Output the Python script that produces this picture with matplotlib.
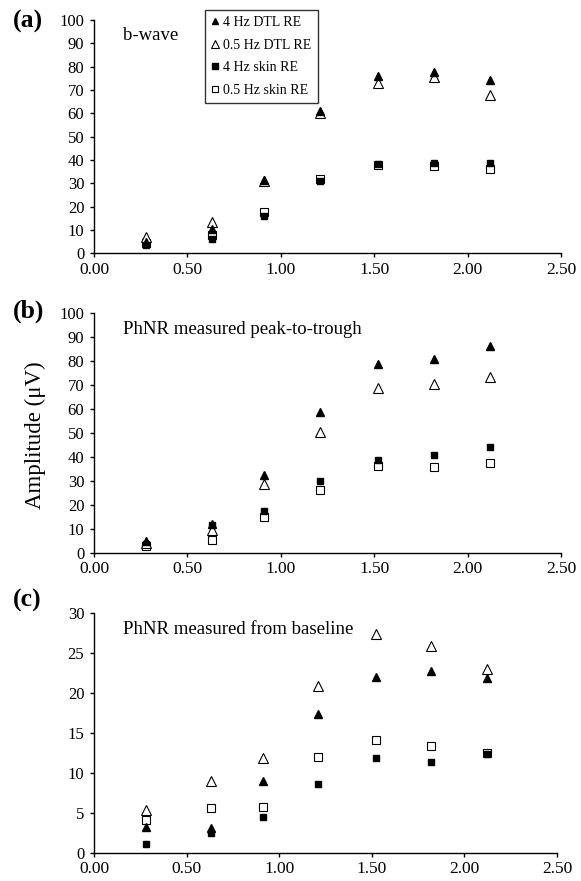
import matplotlib
matplotlib.use("Agg")
import matplotlib.pyplot as plt
from matplotlib.ticker import FormatStrFormatter, MultipleLocator

plt.rcParams['font.family'] = ['Liberation Serif', 'DejaVu Serif']

x = [0.28, 0.63, 0.91, 1.21, 1.52, 1.82, 2.12]

series_names = ["4 Hz DTL RE", "0.5 Hz DTL RE", "4 Hz skin RE", "0.5 Hz skin RE"]

# (a) b-wave
a_4hz_dtl = [5.0, 10.4, 31.4, 61.0, 76.0, 77.8, 74.3]
a_05hz_dtl = [7.2, 13.4, 31.0, 60.0, 73.0, 75.4, 67.9]
a_4hz_skin = [3.7, 6.1, 16.0, 31.2, 38.2, 38.5, 38.9]
a_05hz_skin = [4.5, 7.7, 17.6, 32.0, 37.9, 37.4, 36.2]

# (b) PhNR peak-to-trough
b_4hz_dtl = [4.8, 12.0, 32.4, 58.7, 78.8, 80.6, 86.3]
b_05hz_dtl = [4.0, 9.3, 28.7, 50.1, 68.8, 70.5, 73.0]
b_4hz_skin = [3.5, 11.4, 17.3, 29.8, 38.5, 40.6, 44.0]
b_05hz_skin = [2.9, 5.1, 15.0, 26.0, 36.3, 35.6, 37.4]

# (c) PhNR from baseline
c_4hz_dtl = [3.2, 3.1, 9.0, 17.3, 22.0, 22.7, 21.8]
c_05hz_dtl = [5.3, 9.0, 11.9, 20.8, 27.3, 25.8, 23.0]
c_4hz_skin = [1.1, 2.5, 4.5, 8.6, 11.9, 11.4, 12.4]
c_05hz_skin = [4.1, 5.6, 5.7, 12.0, 14.1, 13.4, 12.5]

W, H = 581, 881
fig = plt.figure(figsize=(W / 100, H / 100), dpi=100)

def ax_rect(l, r, t, b):
    return [l / W, 1 - b / H, (r - l) / W, (b - t) / H]

axes = [
    fig.add_axes(ax_rect(94, 561, 20, 253.3)),
    fig.add_axes(ax_rect(94, 561, 312.7, 552.7)),
    fig.add_axes(ax_rect(94, 557, 612.7, 852.7)),
]

data = [
    (a_4hz_dtl, a_05hz_dtl, a_4hz_skin, a_05hz_skin),
    (b_4hz_dtl, b_05hz_dtl, b_4hz_skin, b_05hz_skin),
    (c_4hz_dtl, c_05hz_dtl, c_4hz_skin, c_05hz_skin),
]
ylims = [(0, 100, 10), (0, 100, 10), (0, 30, 5)]
titles = ["b-wave", "PhNR measured peak-to-trough", "PhNR measured from baseline"]
panel_labels = ["(a)", "(b)", "(c)"]
panel_label_y = [21, 311.7, 600.5]

styles = [
    dict(marker='^', mfc='black', mec='black', ms=5.8),
    dict(marker='^', mfc='white', mec='black', ms=6.5, mew=0.8),
    dict(marker='s', mfc='black', mec='black', ms=4.8),
    dict(marker='s', mfc='white', mec='black', ms=5.5, mew=0.8),
]
order = [3, 2, 1, 0]

handles = {}
for ax, d, (ylo, yhi, ystep), title, pl, ply in zip(axes, data, ylims, titles,
                                                    panel_labels, panel_label_y):
    for i in order:
        h, = ax.plot(x, d[i], linestyle='none', label=series_names[i], clip_on=False, **styles[i])
        handles[i] = h
    ax.set_xlim(0, 2.5)
    ax.set_ylim(ylo, yhi)
    ax.xaxis.set_major_locator(MultipleLocator(0.5))
    ax.yaxis.set_major_locator(MultipleLocator(ystep))
    ax.xaxis.set_major_formatter(FormatStrFormatter('%.2f'))
    ax.spines['top'].set_visible(False)
    ax.spines['right'].set_visible(False)
    for s in ('left', 'bottom'):
        ax.spines[s].set_linewidth(1.0)
    ax.tick_params(axis='y', direction='out', length=3, width=1.0, labelsize=12, pad=4)
    ax.tick_params(axis='x', direction='out', length=3, width=1.0, labelsize=12.5, pad=3)
    ax.text(0.063, 0.932, title, transform=ax.transAxes, fontsize=13.5, va='center', ha='left')
    fig.text(13 / W, 1 - ply / H, pl, fontsize=18.5, fontweight='bold', va='center', ha='left')

fig.text(35 / W, 1 - 435 / H, 'Amplitude (μV)', fontsize=16.5, rotation=90,
         va='center', ha='center')

leg = fig.legend([handles[i] for i in range(4)], series_names,
                 loc='upper left', bbox_to_anchor=(205 / W, 1 - 10 / H),
                 frameon=True, fancybox=False, fontsize=10, handlelength=0.6,
                 handletextpad=0.25, borderpad=0.45, labelspacing=0.68, borderaxespad=0,
                 markerscale=0.8)
leg.get_frame().set_edgecolor('black')
leg.get_frame().set_linewidth(1.0)

fig.savefig('out.png', dpi=100)
